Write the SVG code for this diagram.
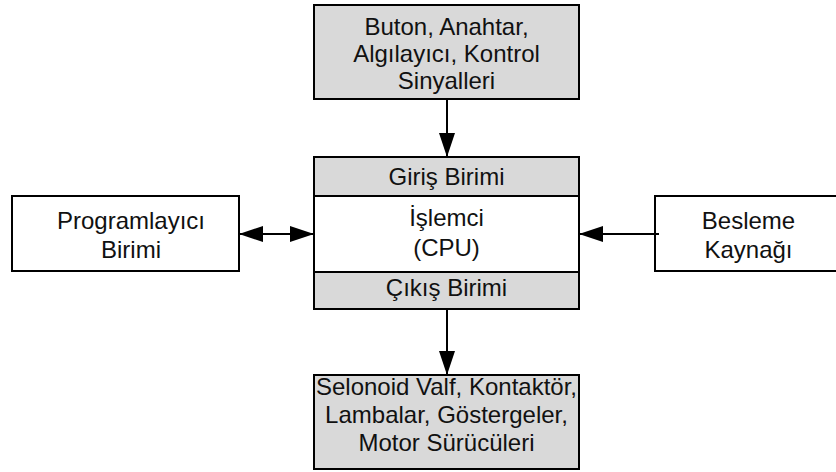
<svg xmlns="http://www.w3.org/2000/svg" width="836" height="472" viewBox="0 0 836 472">
<style>
.box{stroke:#000;stroke-width:2}
.g{fill:#d9d9d9}
.w{fill:#fff}
text{font-family:"Liberation Sans",Arial,sans-serif;font-size:24px;fill:#111;text-anchor:middle}
.c{stroke:#000;stroke-width:2;fill:none}
</style>
<defs>
<marker id="ah" viewBox="0 0 24 16" refX="24" refY="8" markerWidth="24" markerHeight="16" markerUnits="userSpaceOnUse" orient="auto-start-reverse">
<path d="M0,0 L24,8 L0,16 Z" fill="#000"/>
</marker>
</defs>
<rect width="836" height="472" fill="#fff"/>
<g id="inputs">
<rect class="box g" x="314" y="5" width="265" height="94"/>
<text x="446.5" y="35">Buton, Anahtar,</text>
<text x="446.5" y="62">Algılayıcı, Kontrol</text>
<text x="446.5" y="89">Sinyalleri</text>
</g>
<g id="plc">
<rect class="box g" x="314" y="157" width="265" height="39"/>
<rect class="box w" x="314" y="196" width="265" height="76"/>
<rect class="box g" x="314" y="272" width="265" height="37"/>
<text x="446.5" y="185">Giriş Birimi</text>
<text x="446.5" y="226">İşlemci</text>
<text x="446.5" y="256">(CPU)</text>
<text x="446.5" y="296">Çıkış Birimi</text>
</g>
<g id="programmer">
<rect class="box w" x="12" y="196" width="227" height="75"/>
<text x="131" y="229">Programlayıcı</text>
<text x="131" y="258">Birimi</text>
</g>
<g id="power">
<rect class="box w" x="655" y="196" width="190" height="75"/>
<text x="748.5" y="229">Besleme</text>
<text x="748.5" y="258">Kaynağı</text>
</g>
<g id="outputs">
<rect class="box g" x="314" y="375" width="265" height="94"/>
<text x="446.5" y="395">Selonoid Valf, Kontaktör,</text>
<text x="446.5" y="423">Lambalar, Göstergeler,</text>
<text x="446.5" y="451">Motor Sürücüleri</text>
</g>
<g id="connectors">
<line class="c" x1="447" y1="99" x2="447" y2="157" marker-end="url(#ah)"/>
<line class="c" x1="447" y1="309" x2="447" y2="375" marker-end="url(#ah)"/>
<line class="c" x1="239" y1="234" x2="314" y2="234" marker-start="url(#ah)" marker-end="url(#ah)"/>
<line class="c" x1="659" y1="234" x2="579" y2="234" marker-end="url(#ah)"/>
</g>
</svg>
